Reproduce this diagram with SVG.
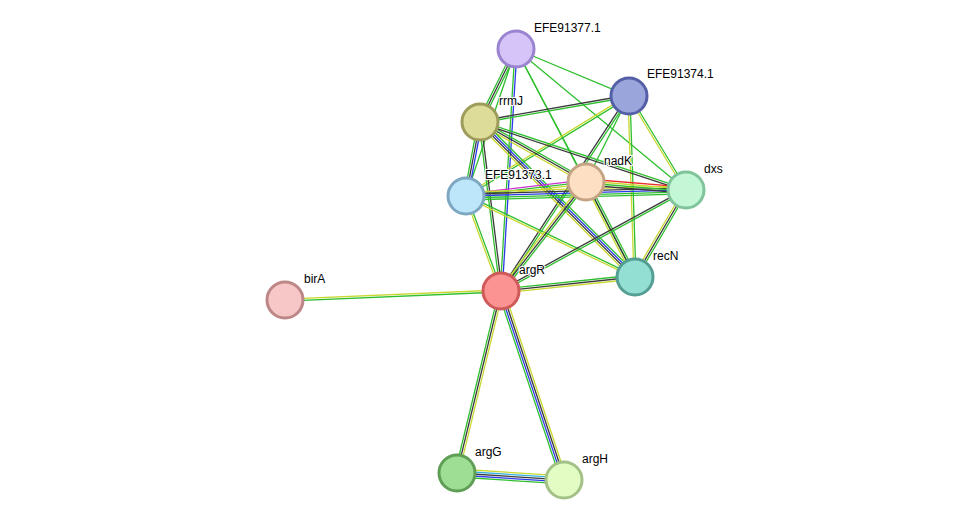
<svg xmlns="http://www.w3.org/2000/svg" width="976" height="526" viewBox="0 0 976 526">
<style>
line{stroke-width:1.3;fill:none}
.g{stroke:#2fbf2f}.k{stroke:#3a3a3a}.y{stroke:#c8d830}.b{stroke:#2a3ae8}.m{stroke:#d030d0}.r{stroke:#ee2a2a}.c{stroke:#30b0e0}
circle{stroke-width:3}
text{font-family:"Liberation Sans",Arial,sans-serif;font-size:12px;fill:#000;paint-order:stroke;stroke:#fff;stroke-width:2px}
</style>
<g id="edges">
<g transform="translate(516,49) rotate(22.6)"><line class="g" x2="122.4"/></g>
<g transform="translate(516,49) rotate(116.3)"><line class="g" y1="-2" y2="-2" x2="81.4"/><line class="k" x2="81.4"/><line class="g" y1="2" y2="2" x2="81.4"/></g>
<g transform="translate(516,49) rotate(108.8)"><line class="g" x2="155.3"/></g>
<g transform="translate(516,49) rotate(93.5)"><line class="b" y1="-1" y2="-1" x2="242.5"/><line class="g" y1="1" y2="1" x2="242.5"/></g>
<g transform="translate(516,49) rotate(62.2)"><line class="g" x2="150.3"/></g>
<g transform="translate(516,49) rotate(39.7)"><line class="g" x2="220.9"/></g>
<g transform="translate(516,49) rotate(62.4)"><line class="g" x2="257.2"/></g>
<g transform="translate(629,96) rotate(170.1)"><line class="g" y1="-1" y2="-1" x2="151.3"/><line class="k" y1="1" y2="1" x2="151.3"/></g>
<g transform="translate(629,96) rotate(148.5)"><line class="g" y1="-1" y2="-1" x2="191.2"/><line class="y" y1="1" y2="1" x2="191.2"/></g>
<g transform="translate(629,96) rotate(116.6)"><line class="g" x2="96.2"/></g>
<g transform="translate(629,96) rotate(58.8)"><line class="g" y1="-1" y2="-1" x2="109.9"/><line class="y" y1="1" y2="1" x2="109.9"/></g>
<g transform="translate(629,96) rotate(88.1)"><line class="g" y1="-1" y2="-1" x2="181.1"/><line class="y" y1="1" y2="1" x2="181.1"/></g>
<g transform="translate(629,96) rotate(123.3)"><line class="g" y1="-1" y2="-1" x2="233.3"/><line class="k" y1="1" y2="1" x2="233.3"/></g>
<g transform="translate(480,122) rotate(100.7)"><line class="b" y1="-2" y2="-2" x2="75.3"/><line class="k" x2="75.3"/><line class="g" y1="2" y2="2" x2="75.3"/></g>
<g transform="translate(480,122) rotate(82.9)"><line class="k" y1="-1" y2="-1" x2="170.3"/><line class="g" y1="1" y2="1" x2="170.3"/></g>
<g transform="translate(480,122) rotate(29.5)"><line class="g" y1="-2" y2="-2" x2="121.8"/><line class="k" x2="121.8"/><line class="y" y1="2" y2="2" x2="121.8"/></g>
<g transform="translate(480,122) rotate(18.3)"><line class="g" y1="-1" y2="-1" x2="216.9"/><line class="k" y1="1" y2="1" x2="216.9"/></g>
<g transform="translate(480,122) rotate(45)"><line class="g" y1="-3" y2="-3" x2="219.2"/><line class="b" y1="-1" y2="-1" x2="219.2"/><line class="k" y1="1" y2="1" x2="219.2"/><line class="y" y1="3" y2="3" x2="219.2"/></g>
<g transform="translate(466,196) rotate(-6.7)"><line class="m" y1="-2" y2="-2" x2="120.8"/><line class="g" x2="120.8"/><line class="y" y1="2" y2="2" x2="120.8"/></g>
<g transform="translate(466,196) rotate(-1.6)"><line class="y" y1="-4" y2="-4" x2="220.1"/><line class="k" y1="-2" y2="-2" x2="220.1"/><line class="b" x2="220.1"/><line class="g" y1="2" y2="2" x2="220.1"/><line class="g" y1="4" y2="4" x2="220.1"/></g>
<g transform="translate(466,196) rotate(25.6)"><line class="g" y1="-1" y2="-1" x2="187.4"/><line class="y" y1="1" y2="1" x2="187.4"/></g>
<g transform="translate(466,196) rotate(69.8)"><line class="g" y1="-1" y2="-1" x2="101.2"/><line class="y" y1="1" y2="1" x2="101.2"/></g>
<g transform="translate(586,182) rotate(4.6)"><line class="r" y1="-3" y2="-3" x2="100.3"/><line class="y" y1="-1" y2="-1" x2="100.3"/><line class="g" y1="1" y2="1" x2="100.3"/><line class="k" y1="3" y2="3" x2="100.3"/></g>
<g transform="translate(586,182) rotate(62.7)"><line class="g" y1="-2" y2="-2" x2="106.9"/><line class="k" x2="106.9"/><line class="y" y1="2" y2="2" x2="106.9"/></g>
<g transform="translate(586,182) rotate(128)"><line class="g" y1="-2" y2="-2" x2="138.2"/><line class="k" x2="138.2"/><line class="y" y1="2" y2="2" x2="138.2"/></g>
<g transform="translate(686,190) rotate(120.4)"><line class="g" y1="-2" y2="-2" x2="100.8"/><line class="k" x2="100.8"/><line class="y" y1="2" y2="2" x2="100.8"/></g>
<g transform="translate(686,190) rotate(151.4)"><line class="g" y1="-1" y2="-1" x2="210.8"/><line class="k" y1="1" y2="1" x2="210.8"/></g>
<g transform="translate(635,277) rotate(174)"><line class="y" y1="-2" y2="-2" x2="134.7"/><line class="k" x2="134.7"/><line class="g" y1="2" y2="2" x2="134.7"/></g>
<g transform="translate(501,291) rotate(177.6)"><line class="g" y1="-1" y2="-1" x2="216.2"/><line class="y" y1="1" y2="1" x2="216.2"/></g>
<g transform="translate(501,291) rotate(103.6)"><line class="y" y1="-2" y2="-2" x2="187.2"/><line class="k" x2="187.2"/><line class="g" y1="2" y2="2" x2="187.2"/></g>
<g transform="translate(501,291) rotate(71.6)"><line class="y" y1="-3" y2="-3" x2="199.2"/><line class="k" y1="-1" y2="-1" x2="199.2"/><line class="b" y1="1" y2="1" x2="199.2"/><line class="g" y1="3" y2="3" x2="199.2"/></g>
<g transform="translate(457,473) rotate(3.7)"><line class="y" y1="-4" y2="-4" x2="107.2"/><line class="c" y1="-2" y2="-2" x2="107.2"/><line class="k" x2="107.2"/><line class="b" y1="2" y2="2" x2="107.2"/><line class="g" y1="4" y2="4" x2="107.2"/></g>
</g>
<g id="EFE91377.1"><circle cx="516" cy="49" r="18" fill="#d4c4f7" stroke="#9a83cf"/><text x="534" y="32">EFE91377.1</text></g>
<g id="EFE91374.1"><circle cx="629" cy="96" r="18" fill="#9aa5dc" stroke="#5460a6"/><text x="647" y="78">EFE91374.1</text></g>
<g id="rrmJ"><circle cx="480" cy="122" r="18" fill="#dedc99" stroke="#9e9c5a"/><text x="499" y="105">rrmJ</text></g>
<g id="nadK"><circle cx="586" cy="182" r="18" fill="#fddfc3" stroke="#c4a484"/><text x="604" y="165">nadK</text></g>
<g id="EFE91373.1"><circle cx="466" cy="196" r="18" fill="#bde6fb" stroke="#7ea8c2"/><text x="485" y="179">EFE91373.1</text></g>
<g id="dxs"><circle cx="686" cy="190" r="18" fill="#c3f7d6" stroke="#80c49a"/><text x="704" y="173">dxs</text></g>
<g id="recN"><circle cx="635" cy="277" r="18" fill="#93dfd4" stroke="#559e94"/><text x="653" y="260">recN</text></g>
<g id="argR"><circle cx="501" cy="291" r="18" fill="#fc9393" stroke="#d05a5a"/><text x="519" y="274">argR</text></g>
<g id="birA"><circle cx="285" cy="300" r="18" fill="#f7c6c6" stroke="#bd8787"/><text x="304" y="283">birA</text></g>
<g id="argG"><circle cx="457" cy="473" r="18" fill="#9edd94" stroke="#5f9e55"/><text x="475" y="456">argG</text></g>
<g id="argH"><circle cx="564" cy="480" r="18" fill="#e2fcc3" stroke="#a4c287"/><text x="582" y="463">argH</text></g>
</svg>
